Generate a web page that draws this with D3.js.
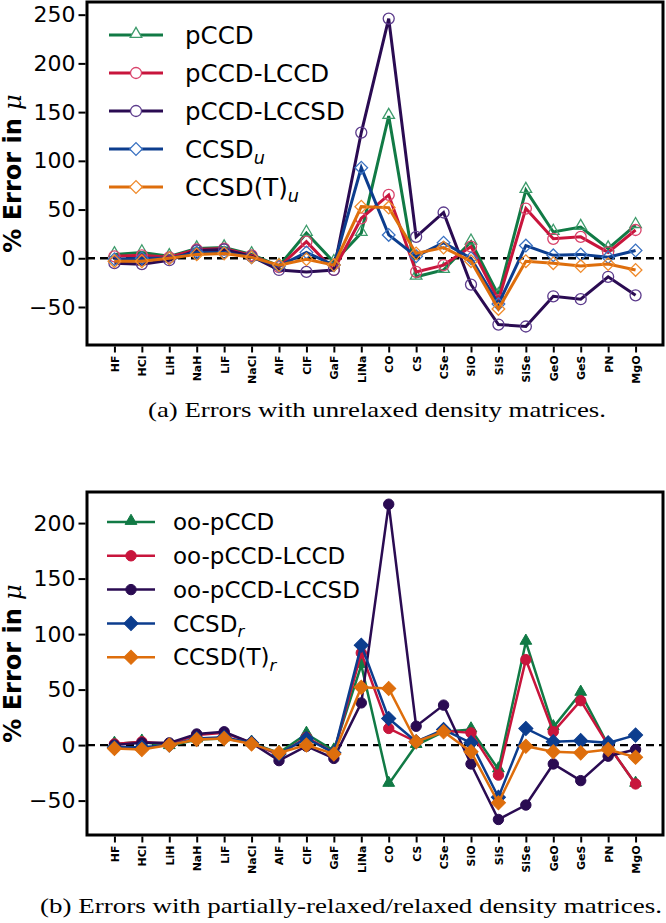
<!DOCTYPE html>
<html><head><meta charset="utf-8">
<script src="https://cdn.jsdelivr.net/npm/d3@7"></script>
<style>body{margin:0;background:#fff}svg{display:block}</style>
</head><body>
<svg id="c" width="666" height="923"></svg>
<script>
const categories = ["HF","HCl","LiH","NaH","LiF","NaCl","AlF","ClF","GaF","LiNa","CO","CS","CSe","SiO","SiS","SiSe","GeO","GeS","PN","MgO"];

// Panel (a): unrelaxed
const pCCD       = [4, 6, 2, 10, 11, 4, -8, 26, -4, 26, 146, -19, -12, 17, -38, 70, 27, 32, 10, 34];
const pCCD_LCCD  = [2, 3, 1, 9, 10, 3, -9, 17, -12, 41, 65, -14, -7, 12, -43, 51, 20, 22, 6, 29];
const pCCD_LCCSD = [-5, -6, -2, 8, 9, 2, -12, -14, -12, 129, 246, 22, 47, -27, -68, -70, -39, -42, -19, -38];
const CCSD_u     = [-1, 0, 0, 6, 6, 1, -8, 6, -7, 93, 24, 2, 16, 0, -47, 13, 3, 4, 1, 8];
const CCSDT_u    = [-3, -3, 0, 4, 5, 1, -7, -1, -7, 53, 52, 5, 11, -3, -52, -3, -5, -8, -6, -12];

// Panel (b): partially-relaxed / relaxed
const oo_pCCD       = [1, 3, -1, 5, 6, 2, -7, 10, -5, 72, -35, 0, 12, 14, -22, 93, 16, 47, 0, -35];
const oo_pCCD_LCCD  = [1, 3, 1, 9, 11, 2, -9, 7, -7, 83, 15, 3, 13, 11, -27, 77, 12, 40, 0, -35];
const oo_pCCD_LCCSD = [0, 2, 2, 10, 12, 2, -14, -1, -12, 38, 217, 17, 36, -17, -67, -54, -17, -32, -10, -4];
const CCSD_r        = [-2, -2, 0, 6, 7, 2, -8, 6, -7, 90, 24, 3, 14, 2, -47, 15, 3, 4, 2, 9];
const CCSDT_r       = [-3, -4, 0, 5, 6, 1, -7, 0, -8, 52, 51, 3, 12, -6, -52, -1, -6, -7, -4, -11];

const yTicksA = [-50, 0, 50, 100, 150, 200, 250];
const yTicksB = [-50, 0, 50, 100, 150, 200];

const colors = {green:"#117a45", red:"#c8153c", purple:"#2a0b52", blue:"#0c3d8e", orange:"#de6e0c"};
const edge   = {green:"#3d9b6b", red:"#d9436b", purple:"#5c3b8c", blue:"#3a72c2", orange:"#f08b2c"};

const seriesA = [
  {name:"pCCD", sub:null, values:pCCD, c:"green", m:"tri"},
  {name:"pCCD-LCCD", sub:null, values:pCCD_LCCD, c:"red", m:"circ"},
  {name:"pCCD-LCCSD", sub:null, values:pCCD_LCCSD, c:"purple", m:"circ"},
  {name:"CCSD", sub:"u", values:CCSD_u, c:"blue", m:"dia"},
  {name:"CCSD(T)", sub:"u", values:CCSDT_u, c:"orange", m:"dia"}
];
const seriesB = [
  {name:"oo-pCCD", sub:null, values:oo_pCCD, c:"green", m:"tri"},
  {name:"oo-pCCD-LCCD", sub:null, values:oo_pCCD_LCCD, c:"red", m:"circ"},
  {name:"oo-pCCD-LCCSD", sub:null, values:oo_pCCD_LCCSD, c:"purple", m:"circ"},
  {name:"CCSD", sub:"r", values:CCSD_r, c:"blue", m:"dia"},
  {name:"CCSD(T)", sub:"r", values:CCSDT_r, c:"orange", m:"dia"}
];

const svg = d3.select("#c");
const L = 87, R = 663;

function symPath(m, filled){
  if(m==="tri") return d3.symbol().type(d3.symbolTriangle).size(filled?60:58)();
  if(m==="circ") return d3.symbol().type(d3.symbolCircle).size(filled?85:95)();
  return d3.symbol().type(d3.symbolSquare).size(filled?100:80)();
}

function panel(opt){
  const {top, bottom, domain, ticks, series, filled, caption, capY, capLen, capX, legend} = opt;
  const g = svg.append("g");
  const x = d3.scaleLinear().domain([-1, 20]).range([L, R]);
  const y = d3.scaleLinear().domain(domain).range([bottom, top]);

  g.append("line").attr("x1", L).attr("x2", R).attr("y1", y(0)).attr("y2", y(0))
    .attr("stroke", "#000").attr("stroke-width", 2.4).attr("stroke-dasharray", "8,5");

  const lw = filled ? 2.5 : 3;
  const line = d3.line().x((d,i)=>x(i)).y(d=>y(d));
  series.forEach(s=>{
    g.append("path").attr("d", line(s.values)).attr("fill","none")
      .attr("stroke", colors[s.c]).attr("stroke-width", lw).attr("stroke-linejoin","miter");
    const p = symPath(s.m, filled);
    g.selectAll(null).data(s.values).enter().append("path")
      .attr("d", p)
      .attr("transform", (d,i)=>`translate(${x(i)},${y(d) + (s.m==="tri"? -1:0)})${s.m==="dia"?" rotate(45)":""}`)
      .attr("fill", filled ? colors[s.c] : "none")
      .attr("stroke", filled ? colors[s.c] : edge[s.c])
      .attr("stroke-width", filled ? 1 : 1.3);
  });

  g.append("rect").attr("x", L).attr("y", top).attr("width", R-L).attr("height", bottom-top)
    .attr("fill","none").attr("stroke","#000").attr("stroke-width",3);

  const ya = g.append("g").attr("transform", `translate(${L-1.5},0)`)
    .call(d3.axisLeft(y).tickValues(ticks).tickSize(7).tickPadding(3).tickFormat(d3.format("d")));
  ya.select(".domain").remove();
  ya.selectAll(".tick line").attr("stroke-width", 2);
  ya.selectAll(".tick text").attr("font-family","DejaVu Sans").attr("font-size", 22).attr("fill","#000");

  const xa = g.append("g").attr("transform", `translate(0,${bottom+1.5})`)
    .call(d3.axisBottom(x).tickValues(d3.range(categories.length)).tickSize(6).tickFormat(i=>categories[i]));
  xa.select(".domain").remove();
  xa.selectAll(".tick line").attr("stroke-width", 2);
  xa.selectAll(".tick text").attr("font-family","DejaVu Sans").attr("font-weight","bold")
    .attr("font-size", 11).attr("fill","#000")
    .attr("transform","rotate(-90)").attr("text-anchor","end")
    .attr("x", -9).attr("y", 0).attr("dy","0.35em");

  const yl = g.append("text").attr("transform", `translate(21,${(top+bottom)/2}) rotate(-90)`)
    .attr("text-anchor","middle").attr("font-family","DejaVu Sans").attr("font-size",24).attr("fill","#000");
  yl.append("tspan").attr("font-weight","bold").text("% Error in ");
  yl.append("tspan").attr("font-style","italic").attr("font-family","DejaVu Serif").text("μ");

  series.forEach((s,i)=>{
    const ly = legend.y0 + i*legend.dy;
    g.append("line").attr("x1", legend.x1).attr("x2", legend.x2).attr("y1", ly).attr("y2", ly)
      .attr("stroke", colors[s.c]).attr("stroke-width", lw);
    const mx = (legend.x1+legend.x2)/2;
    g.append("path").attr("d", symPath(s.m, filled))
      .attr("transform", `translate(${mx},${ly + (s.m==="tri"?-1:0)})${s.m==="dia"?" rotate(45)":""}`)
      .attr("fill", filled ? colors[s.c] : "#fff")
      .attr("stroke", filled ? colors[s.c] : edge[s.c]).attr("stroke-width", filled?1:1.3);
    const t = g.append("text").attr("x", legend.tx).attr("y", ly).attr("dy","0.36em")
      .attr("font-family","DejaVu Sans").attr("font-size", legend.fs).attr("fill","#000");
    t.append("tspan").text(s.name);
    if(s.sub){
      t.append("tspan").attr("font-style","italic").attr("font-size", legend.fs*0.72)
        .attr("dy", "0.35em").text(s.sub);
    }
  });

  svg.append("text").attr("x", capX).attr("y", capY).attr("font-family","Liberation Serif")
    .attr("font-size", 21).attr("fill","#000").attr("textLength", capLen).attr("lengthAdjust","spacingAndGlyphs")
    .text(caption);
}

panel({top:2, bottom:345, domain:[-89, 263], ticks:yTicksA, series:seriesA, filled:false,
  caption:"(a) Errors with unrelaxed density matrices.", capX:148, capY:417, capLen:458,
  legend:{x1:109, x2:163, tx:185, y0:35, dy:38, fs:24.5}});
panel({top:492, bottom:835, domain:[-81, 228], ticks:yTicksB, series:seriesB, filled:true,
  caption:"(b) Errors with partially-relaxed/relaxed density matrices.", capX:40, capY:913, capLen:622,
  legend:{x1:107, x2:155, tx:173, y0:522, dy:33.8, fs:23}});
</script>
</body></html>
